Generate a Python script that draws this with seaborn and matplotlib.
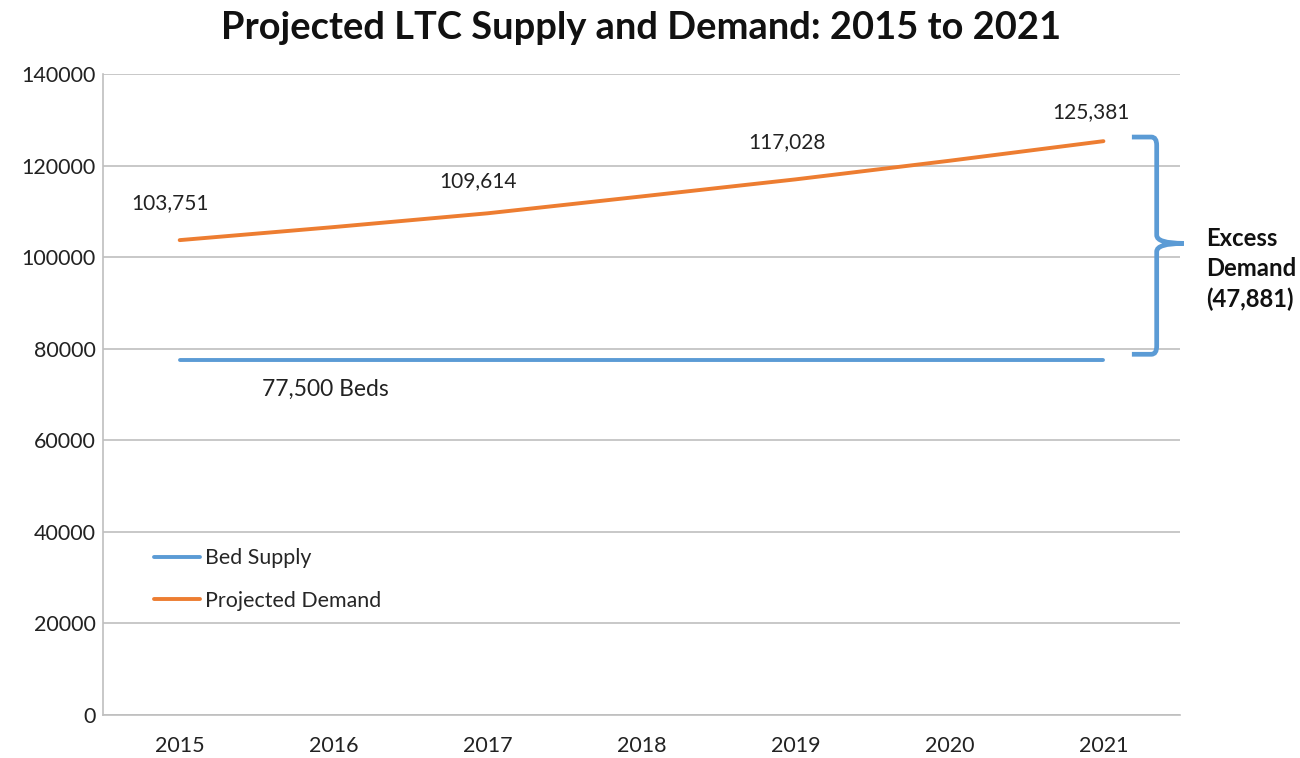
import matplotlib
matplotlib.use("Agg")
import matplotlib.pyplot as plt
import matplotlib.transforms as mtransforms
from matplotlib.path import Path
from matplotlib.patches import PathPatch
import pandas as pd
import seaborn as sns

# data
years = [2015, 2016, 2017, 2018, 2019, 2020, 2021]
bed_supply = [77500, 77500, 77500, 77500, 77500, 77500, 77500]
projected_demand = [103751, 106600, 109614, 113300, 117028, 121100, 125381]
labelled_years = [2015, 2017, 2019, 2021]
excess_demand = 47881

blue = "#5b9bd5"
orange = "#ed7d31"
grid_col = "#bfbfbf"

sns.set_theme(style="white")
plt.rcParams["font.family"] = ["Lato", "DejaVu Sans"]

df = pd.DataFrame({"Year": years, "Bed Supply": bed_supply,
                   "Projected Demand": projected_demand})
long = df.melt(id_vars="Year", var_name="Series", value_name="Beds")

fig = plt.figure(figsize=(13, 7.58), dpi=100)
ax = fig.add_axes([0.079, 0.057, 0.829, 0.845])

sns.lineplot(data=long, x="Year", y="Beds", hue="Series",
             palette={"Bed Supply": blue, "Projected Demand": orange},
             linewidth=2.8, ax=ax)

ax.set_xlim(2014.5, 2021.5)
ax.set_ylim(0, 140000)
ax.set_xticks(years)
ax.set_yticks(range(0, 140001, 20000))
ax.tick_params(axis="both", length=0, labelsize=15.5, colors="#222222")
ax.tick_params(axis="x", pad=15)
ax.tick_params(axis="y", pad=5)
ax.set_xlabel("")
ax.set_ylabel("")
ax.yaxis.grid(True, color=grid_col, linewidth=1.2)
ax.set_axisbelow(True)
for s in ["top", "right"]:
    ax.spines[s].set_visible(False)
for s in ["left", "bottom"]:
    ax.spines[s].set_color(grid_col)
    ax.spines[s].set_linewidth(1.2)

# data labels above the demand line (offsets in points)
label_offsets = {2015: (-7, 27), 2017: (-7, 23), 2019: (-6.5, 27), 2021: (-9, 21)}
for yr in labelled_years:
    val = projected_demand[years.index(yr)]
    ax.annotate(f"{val:,}", xy=(yr, val), xytext=label_offsets[yr],
                textcoords="offset points", ha="center", va="center",
                fontsize=15, color="#222222")
ax.annotate(f"{bed_supply[0]:,} Beds", xy=(2016, bed_supply[0]), xytext=(-6, -21),
            textcoords="offset points", ha="center", va="center", fontsize=16.5, color="#222222")

leg = ax.legend(loc="upper left", bbox_to_anchor=(0.030, 0.29), frameon=False,
                fontsize=15.4, handlelength=2.15, handletextpad=0.23, labelspacing=1.05)

# curly brace for excess demand
trans = mtransforms.blended_transform_factory(ax.transAxes, ax.transData)
top = projected_demand[-1] + 900
bot = bed_supply[-1] + 1300
mid = (top + bot) / 2 + 500
x0, x1, xt = 0.955, 0.978, 1.003
h = 1800
verts = [
    (x0, top), (x1 - 0.005, top),
    (x1, top), (x1, top - h),
    (x1, mid + h),
    (x1, mid), (xt, mid),
    (x1, mid), (x1, mid - h),
    (x1, bot + h),
    (x1, bot), (x1 - 0.005, bot),
    (x0, bot),
]
codes = [Path.MOVETO, Path.LINETO,
         Path.CURVE3, Path.CURVE3,
         Path.LINETO,
         Path.CURVE3, Path.CURVE3,
         Path.CURVE3, Path.CURVE3,
         Path.LINETO,
         Path.CURVE3, Path.CURVE3,
         Path.LINETO]
brace = PathPatch(Path(verts, codes), transform=trans, fill=False,
                  edgecolor=blue, linewidth=3.4, clip_on=False)
ax.add_patch(brace)

ax.text(1.024, mid - 5600, f"Excess\nDemand\n({excess_demand:,})", transform=trans,
        ha="left", va="center", fontsize=17.2, fontweight="bold",
        color="#111111", linespacing=1.38)

fig.suptitle("Projected LTC Supply and Demand: 2015 to 2021", x=0.493, y=0.985,
             fontsize=27.4, fontweight="bold", color="#111111")

fig.savefig("out.png", dpi=100)
